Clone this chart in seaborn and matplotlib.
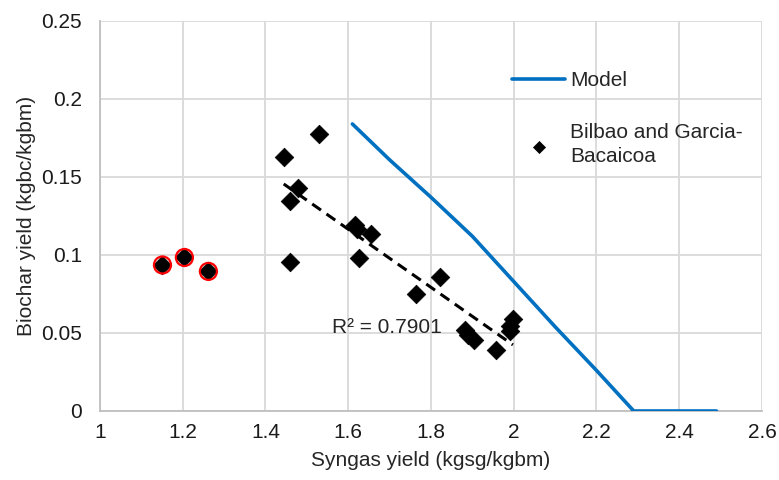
import numpy as np
import pandas as pd
import seaborn as sns
import matplotlib.pyplot as plt

# Model curve
model_x = [1.61, 1.70, 1.80, 1.90, 2.00, 2.10, 2.20, 2.29, 2.49]
model_y = [0.184, 0.161, 0.137, 0.112, 0.083, 0.054, 0.026, 0.0, 0.0]

# Bilbao and Garcia-Bacaicoa data
exp_x = [1.444, 1.529, 1.479, 1.459, 1.459, 1.617, 1.622, 1.656, 1.627, 1.763,
         1.821, 1.881, 1.890, 1.903, 1.956, 1.998, 1.992, 1.990]
exp_y = [0.1626, 0.1775, 0.143, 0.1346, 0.0957, 0.119, 0.1165, 0.1137, 0.0978, 0.075,
         0.0857, 0.052, 0.049, 0.0453, 0.0389, 0.0591, 0.0548, 0.0512]

# excluded points (circled in red)
out_x = [1.151, 1.204, 1.262]
out_y = [0.0936, 0.0984, 0.0895]

r2_text = "R² = 0.7901"

sns.set_style("white")
plt.rcParams['font.family'] = ['Liberation Sans', 'DejaVu Sans']
fs = 15

fig = plt.figure(figsize=(7.79, 4.8), dpi=100)
ax = fig.add_axes([100/779, 1-411/480, 662/779, 390/480])

df_model = pd.DataFrame({'x': model_x, 'y': model_y})
df_exp = pd.DataFrame({'x': exp_x + out_x, 'y': exp_y + out_y})

sns.lineplot(data=df_model, x='x', y='y', color='#0070C0', linewidth=2.6,
             label='Model', ax=ax, zorder=3)
sns.scatterplot(data=df_exp, x='x', y='y', marker='D', color='black', s=90,
                edgecolor='black', linewidth=0.5, label='Bilbao and Garcia-\nBacaicoa',
                ax=ax, zorder=4)
ax.scatter(out_x, out_y, s=150, facecolors='none', edgecolors='#ff0000',
           linewidths=1.6, zorder=5)

# linear trend line
k, b = np.polyfit(exp_x, exp_y, 1)
tx = np.array([min(exp_x), max(exp_x)])
ax.plot(tx, k * tx + b, color='black', linestyle=(0, (3.5, 2.2)), linewidth=2.2, zorder=3)
ax.text(1.56, 0.0535, r2_text, fontsize=fs, va='center', ha='left')

ax.set_xlim(1, 2.6)
ax.set_ylim(0, 0.25)
ax.set_xticks(np.arange(1, 2.61, 0.2))
ax.set_xticklabels(['1', '1.2', '1.4', '1.6', '1.8', '2', '2.2', '2.4', '2.6'])
ax.set_yticks(np.arange(0, 0.251, 0.05))
ax.set_yticklabels(['0', '0.05', '0.1', '0.15', '0.2', '0.25'])
ax.grid(True, color='#d9d9d9', linewidth=1.3)
ax.tick_params(length=0, labelsize=fs, colors='#1a1a1a')
ax.tick_params(axis='y', pad=13)
ax.tick_params(axis='x', pad=9)
for s in ['top', 'right']:
    ax.spines[s].set_visible(False)
for s in ['left', 'bottom']:
    ax.spines[s].set_color('#bfbfbf')
    ax.spines[s].set_linewidth(1.3)

ax.set_xlabel('Syngas yield (kgsg/kgbm)', fontsize=fs, labelpad=6)
ax.set_ylabel('Biochar yield (kgbc/kgbm)', fontsize=fs, labelpad=4)

leg = ax.legend(loc='upper left', bbox_to_anchor=(0.61, 0.893), frameon=False,
                fontsize=fs, handlelength=2.55, handletextpad=0.25, labelspacing=1.6,
                borderaxespad=0, markerscale=0.65)
leg.get_texts()[1].set_linespacing(1.3)

fig.savefig('out.png', dpi=100)
